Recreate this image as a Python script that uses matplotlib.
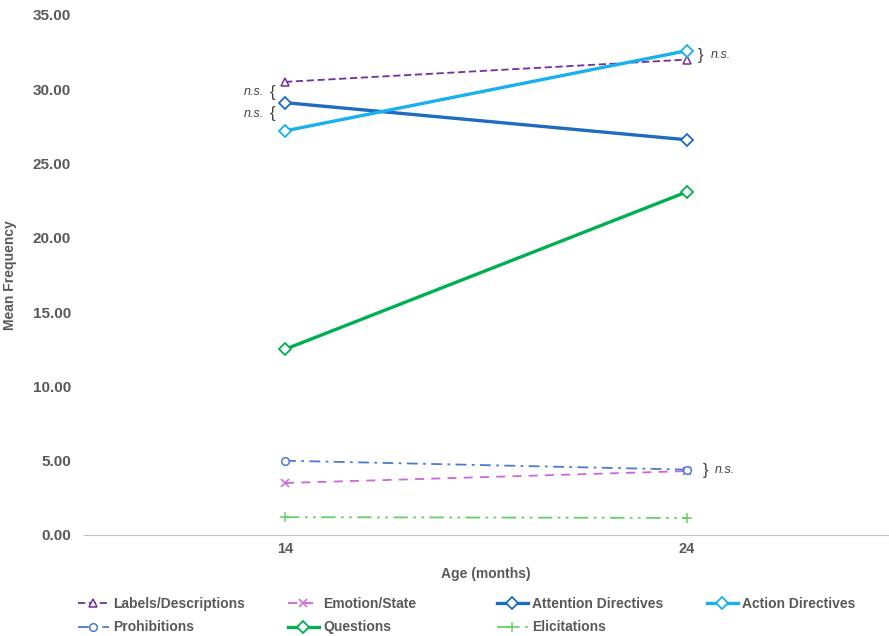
import matplotlib.pyplot as plt

plt.rcParams['font.family'] = ['Liberation Sans', 'DejaVu Sans']

ages = ['14', '24']
labels_desc = [30.5, 32.0]
emotion = [3.5, 4.3]
attention = [29.1, 26.6]
action = [27.2, 32.6]
prohibitions = [5.0, 4.4]
questions = [12.5, 23.1]
elicitations = [1.2, 1.15]

GRAY = '#595959'
x = [0, 1]

fig = plt.figure(figsize=(8.89, 6.36), dpi=100)
ax = fig.add_axes([84 / 889, 1 - 535 / 636, 1 - 84 / 889 - 0.001, (535 - 15) / 636])

h = {}
h['Labels/Descriptions'], = ax.plot(x, labels_desc, color='#7030A0', lw=1.3, ls=(0, (4, 2)),
                                    marker='^', ms=5.5, mfc='white', mew=1.1)
h['Emotion/State'], = ax.plot(x, emotion, color='#CC66DD', lw=1.3, ls=(0, (5, 4)),
                              marker='x', ms=5.5, mew=1.1)
h['Attention Directives'], = ax.plot(x, attention, color='#1F6BBF', lw=2.4,
                                     marker='D', ms=6, mfc='white', mew=1.3)
h['Action Directives'], = ax.plot(x, action, color='#1AB0EE', lw=2.4,
                                  marker='D', ms=6, mfc='white', mew=1.3)
h['Prohibitions'], = ax.plot(x, prohibitions, color='#4C7BD0', lw=1.3, ls=(0, (6, 3, 1.5, 3)),
                             marker='o', ms=5.5, mfc='white', mew=1.1)
h['Questions'], = ax.plot(x, questions, color='#00B050', lw=2.4,
                          marker='D', ms=6, mfc='white', mew=1.3)
h['Elicitations'], = ax.plot(x, elicitations, color='#66D066', lw=1.3, ls=(0, (8, 3, 1.5, 3, 1.5, 3)),
                             marker='+', ms=6.5, mew=1.1)

# n.s. annotations with braces
kw = dict(color='#404040', fontsize=9, style='italic', va='center', textcoords='offset points')
bk = dict(color='#404040', fontsize=12, va='center', textcoords='offset points')
left_y = [(labels_desc[0] + attention[0]) / 2, (attention[0] + action[0]) / 2 + 0.2]
for yy in left_y:
    ax.annotate('{', xy=(0, yy), xytext=(-7, 0), ha='right', **bk)
    ax.annotate('n.s.', xy=(0, yy), xytext=(-15, 0), ha='right', **kw)
right_y = [((labels_desc[1] + action[1]) / 2, 8), ((prohibitions[1] + emotion[1]) / 2, 11)]
for yy, off in right_y:
    ax.annotate('}', xy=(1, yy), xytext=(off, 0), ha='left', **bk)
    ax.annotate('n.s.', xy=(1, yy), xytext=(off + 9, 0), ha='left', **kw)

ax.set_xlim(-0.5, 1.5)
ax.set_ylim(0, 35)
ax.set_xticks(x)
ax.set_xticklabels(ages)
ax.set_yticks(range(0, 36, 5))
ax.set_yticklabels([f'{v:.2f}' for v in range(0, 36, 5)])
ax.tick_params(axis='y', length=0, pad=9.5, labelsize=11, labelcolor=GRAY)
ax.tick_params(axis='x', length=0, pad=5, labelsize=10.5, labelcolor=GRAY)
for lab in ax.get_xticklabels() + ax.get_yticklabels():
    lab.set_fontweight('bold')

for s in ['top', 'right', 'left']:
    ax.spines[s].set_visible(False)
ax.spines['bottom'].set_color('#BFBFBF')

ax.set_xlabel('Age (months)', fontsize=10, fontweight='bold', color=GRAY)
ax.xaxis.set_label_coords(0.5, -0.062)
ax.set_ylabel('Mean Frequency', fontsize=10, fontweight='bold', color=GRAY)
ax.yaxis.set_label_coords(-0.083, 0.5)

# legend: four evenly spaced columns
columns = [['Labels/Descriptions', 'Prohibitions'], ['Emotion/State', 'Questions'],
           ['Attention Directives', 'Elicitations'], ['Action Directives']]
col_x = [78, 288, 497, 707]
for names, cx in zip(columns, col_x):
    leg = fig.legend([h[k] for k in names], names, loc='upper left',
                     bbox_to_anchor=(cx / 889, 1 - 597 / 636), frameon=False,
                     handlelength=2.2, labelspacing=0.68, handletextpad=0.35,
                     borderpad=0, borderaxespad=0,
                     prop={'size': 10, 'weight': 'bold'})
    for t in leg.get_texts():
        t.set_color(GRAY)

fig.savefig('out.png', dpi=100)
